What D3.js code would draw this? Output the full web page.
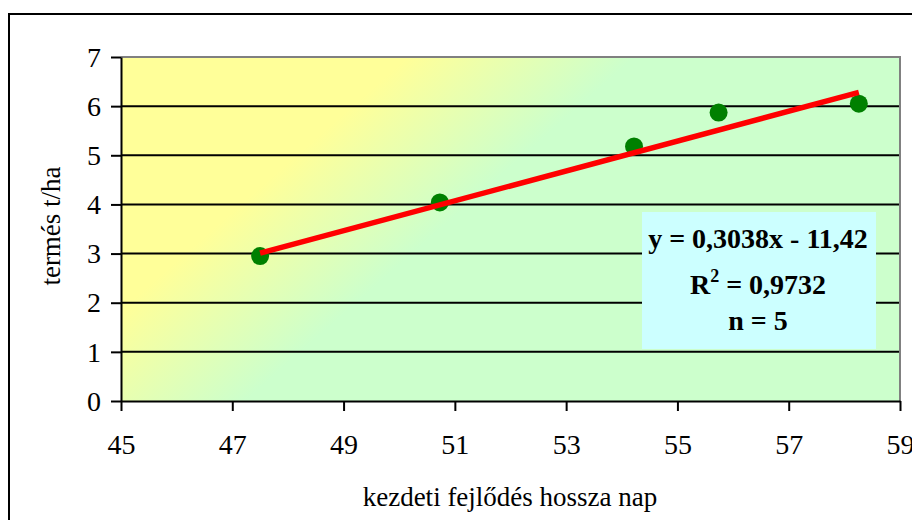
<!DOCTYPE html>
<html><head><meta charset="utf-8">
<script src="https://cdn.jsdelivr.net/npm/d3@7"></script>
<style>body{margin:0;background:#fff}svg{display:block}</style>
</head><body>
<svg id="c" width="912" height="520"></svg>
<script>
const xValues = [47.5, 50.73, 54.22, 55.74, 58.26];
const yValues = [2.95, 4.04, 5.18, 5.87, 6.05];
const xTicks = [45, 47, 49, 51, 53, 55, 57, 59];
const yTicks = [0, 1, 2, 3, 4, 5, 6, 7];
const trendSlope = [0.3038];
const trendIntercept = [-11.42];
const eqLines = ["y = 0,3038x - 11,42", "R2 = 0,9732", "n = 5"];
const xTitle = "kezdeti fejlődés hossza nap";
const yTitle = "termés t/ha";

const svg = d3.select("#c");
const font = "'Liberation Serif','Times New Roman',serif";
const L = 121, R = 900, T = 57, B = 401;
const x = d3.scaleLinear().domain([45, 59]).range([L, R]);
const y = d3.scaleLinear().domain([0, 7]).range([B, T]);

// outer frame
svg.append("rect").attr("x", 9).attr("y", 14).attr("width", 920).attr("height", 530)
  .attr("fill", "#fff").attr("stroke", "#000").attr("stroke-width", 2);

// gradient
const defs = svg.append("defs");
const g = defs.append("linearGradient").attr("id", "bg").attr("gradientUnits", "userSpaceOnUse")
  .attr("x1", L).attr("y1", T).attr("x2", L + 0.6615 * 520).attr("y2", T + 0.75 * 520);
g.append("stop").attr("offset", 0.365).attr("stop-color", "#FFFF99");
g.append("stop").attr("offset", 0.654).attr("stop-color", "#CCFFCC");

svg.append("rect").attr("x", L).attr("y", T).attr("width", R - L).attr("height", B - T)
  .attr("fill", "url(#bg)");

// gridlines
svg.append("g").selectAll("line").data(yTicks.filter(d => d > 0 && d < 7)).join("line")
  .attr("x1", L).attr("x2", R).attr("y1", d => y(d)).attr("y2", d => y(d))
  .attr("stroke", "#000").attr("stroke-width", 2);

// plot border top/right (gray)
svg.append("path").attr("d", `M${L},${T}H${R}V${B}`).attr("fill", "none")
  .attr("stroke", "#808080").attr("stroke-width", 2);

// axes
const xAxis = svg.append("g").attr("transform", `translate(0,${B})`)
  .call(d3.axisBottom(x).tickValues(xTicks).tickSize(10).tickSizeOuter(0).tickFormat(d3.format("d")));
const yAxis = svg.append("g").attr("transform", `translate(${L},0)`)
  .call(d3.axisLeft(y).tickValues(yTicks).tickSize(10).tickSizeOuter(0).tickFormat(d3.format("d")));
[xAxis, yAxis].forEach(a => {
  a.select(".domain").attr("stroke", "#000").attr("stroke-width", 2);
  a.selectAll(".tick line").attr("stroke", "#000").attr("stroke-width", 2);
  a.selectAll("text").attr("font-family", font).attr("font-size", 28).attr("fill", "#000");
});
xAxis.selectAll("text").attr("dy", null).attr("y", 53);
yAxis.selectAll("text").attr("x", -20).attr("dy", "0.33em");

// markers
svg.append("g").selectAll("circle").data(xValues.map((v, i) => [v, yValues[i]])).join("circle")
  .attr("cx", d => x(d[0])).attr("cy", d => y(d[1])).attr("r", 9).attr("fill", "#008000");

// trend line
const x0 = d3.min(xValues), x1 = d3.max(xValues);
svg.append("line")
  .attr("x1", x(x0)).attr("y1", y(trendSlope[0] * x0 + trendIntercept[0]))
  .attr("x2", x(x1)).attr("y2", y(trendSlope[0] * x1 + trendIntercept[0]))
  .attr("stroke", "#FF0000").attr("stroke-width", 5.5);

// equation box
svg.append("rect").attr("x", 642).attr("y", 212).attr("width", 234).attr("height", 137).attr("fill", "#CCFFFF");
const eq = svg.append("g").attr("font-family", font).attr("font-size", 28).attr("font-weight", "bold")
  .attr("text-anchor", "middle");
eq.append("text").attr("x", 758).attr("y", 248).text(eqLines[0]);
const t2 = eq.append("text").attr("x", 758).attr("y", 294);
t2.append("tspan").text("R");
t2.append("tspan").attr("font-size", 18).attr("dy", -12).text("2");
t2.append("tspan").attr("dy", 12).text(" = 0,9732");
eq.append("text").attr("x", 758).attr("y", 330).text(eqLines[2]);

// titles
svg.append("text").attr("x", 510).attr("y", 506).attr("text-anchor", "middle")
  .attr("font-family", font).attr("font-size", 27).text(xTitle);
svg.append("text").attr("transform", "translate(60,226) rotate(-90)").attr("text-anchor", "middle")
  .attr("font-family", font).attr("font-size", 27).text(yTitle);
</script>
</body></html>
